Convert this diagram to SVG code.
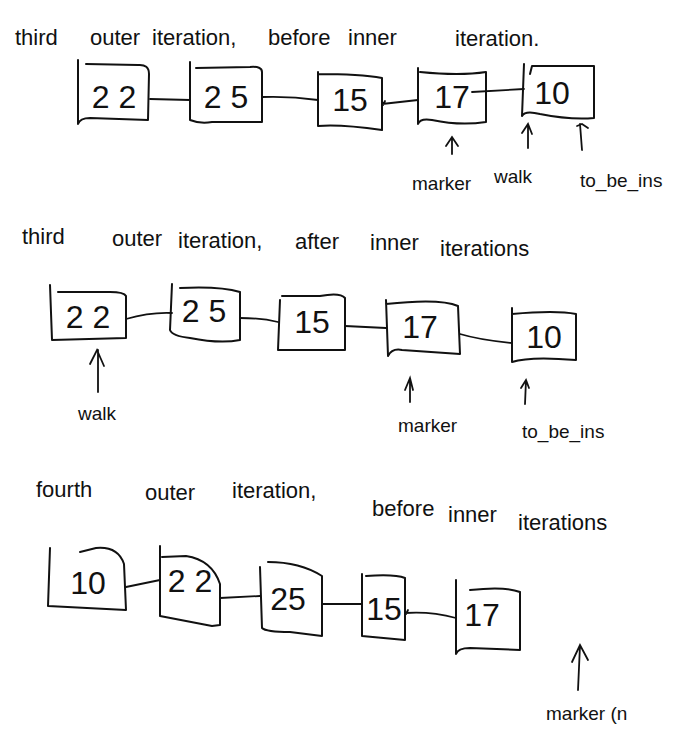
<svg xmlns="http://www.w3.org/2000/svg" width="676" height="749" viewBox="0 0 676 749">
<style>
.t{font-family:"Liberation Sans",Arial,sans-serif;font-size:22px;fill:#111}
.l{font-family:"Liberation Sans",Arial,sans-serif;font-size:19px;fill:#111}
.n{font-family:"Liberation Sans",Arial,sans-serif;font-size:32px;fill:#111;text-anchor:middle}
.b{fill:none;stroke:#111;stroke-width:2;stroke-linecap:round;stroke-linejoin:round}
.c{fill:none;stroke:#111;stroke-width:1.8;stroke-linecap:round}
</style>
<rect width="676" height="749" fill="#fff"/>

<g id="title1"><text class="t"><tspan x="15" y="45">third</tspan><tspan x="90" y="45">outer</tspan><tspan x="152" y="45">iteration,</tspan><tspan x="268" y="45">before</tspan><tspan x="348" y="45">inner</tspan><tspan x="455" y="46">iteration.</tspan></text></g>

<g id="r1-n22"><path class="b" d="M78 60 L78 124 Q80 118 90 118 L148 120 L149 74 Q149 64 138 65 L86 64"/><text class="n" x="114" y="108">2 2</text></g>
<g id="r1-n25"><path class="b" d="M190 62 L190 120 Q200 124 212 122 L262 122 L262 72 Q262 66 250 67 L196 68"/><text class="n" x="226" y="108">2 5</text></g>
<g id="r1-n15"><path class="b" d="M318 72 L318 126 Q340 124 382 130 L382 78 Q360 74 318 74"/><text class="n" x="350" y="111">15</text></g>
<g id="r1-n17"><path class="b" d="M418 68 L418 124 Q420 118 432 120 Q460 126 486 122 L486 72 Q460 76 420 72"/><text class="n" x="452" y="108">17</text></g>
<g id="r1-n10"><path class="b" d="M524 64 L522 116 Q525 110 540 114 Q570 120 594 118 L594 66 Q570 66 532 66 L530 74"/><text class="n" x="552" y="104">10</text></g>

<g id="connectors1">
<path class="c" d="M150 99 L190 100"/>
<path class="c" d="M262 97 Q290 96 318 100"/>
<path class="c" d="M418 100 L382 104 M385 101 L383 105"/>
<path class="c" d="M472 92 L524 89"/>
<path class="c" d="M452 154 L452 137 M446 146 L452 137 L458 146"/>
<path class="c" d="M528 148 L528 124 M522 133 L528 124 L532 134"/>
<path class="c" d="M582 150 L580 124 M577 126 L582 124 L588 128"/>
</g>
<g id="labels1">
<text class="l" x="412" y="190">marker</text>
<text class="l" x="494" y="183">walk</text>
<text class="l" x="580" y="187">to_be_ins</text>
</g>

<g id="title2"><text class="t"><tspan x="22" y="244">third</tspan><tspan x="112" y="246">outer</tspan><tspan x="178" y="248">iteration,</tspan><tspan x="295" y="249">after</tspan><tspan x="370" y="250">inner</tspan><tspan x="440" y="256">iterations</tspan></text></g>

<g id="r2-n22"><path class="b" d="M50 285 L52 340 L126 338 L126 296 Q124 292 110 292 L58 292"/><text class="n" x="88" y="328">2 2</text></g>
<g id="r2-n25"><path class="b" d="M172 284 L170 330 Q172 336 190 338 Q220 344 240 340 L240 292 Q220 286 180 288"/><text class="n" x="204" y="322">2 5</text></g>
<g id="r2-n15"><path class="b" d="M280 300 L278 350 L345 350 L345 298 Q340 292 320 296 L282 296"/><text class="n" x="312" y="333">15</text></g>
<g id="r2-n17"><path class="b" d="M386 300 L388 356 Q392 348 402 350 L460 354 L458 306 Q440 298 386 304"/><text class="n" x="420" y="338">17</text></g>
<g id="r2-n10"><path class="b" d="M512 308 L512 362 Q530 356 576 360 L576 314 Q556 310 512 314"/><text class="n" x="544" y="348">10</text></g>

<g id="connectors2">
<path class="c" d="M126 319 Q150 312 172 313"/>
<path class="c" d="M240 318 Q262 318 278 322"/>
<path class="c" d="M345 326 L386 328"/>
<path class="c" d="M460 334 Q480 340 512 343"/>
<path class="c" d="M98 392 L98 350 M90 364 L97 350 L104 366"/>
<path class="c" d="M410 402 L410 378 M405 390 L410 378 L413 390"/>
<path class="c" d="M525 404 L526 380 M521 388 L526 380 L529 388"/>
</g>
<g id="labels2">
<text class="l" x="78" y="420">walk</text>
<text class="l" x="398" y="432">marker</text>
<text class="l" x="522" y="438">to_be_ins</text>
</g>

<g id="title3"><text class="t"><tspan x="36" y="497">fourth</tspan><tspan x="145" y="500">outer</tspan><tspan x="232" y="498">iteration,</tspan><tspan x="372" y="516">before</tspan><tspan x="448" y="522">inner</tspan><tspan x="518" y="530">iterations</tspan></text></g>

<g id="r3-n10"><path class="b" d="M50 548 L48 606 L126 610 L124 564 Q118 546 96 548 L80 552"/><text class="n" x="88" y="594">10</text></g>
<g id="r3-n22"><path class="b" d="M160 546 L160 616 L212 626 L220 625 L220 584 Q212 560 186 556 L162 557"/><text class="n" x="190" y="592">2 2</text></g>
<g id="r3-n25"><path class="b" d="M260 567 L262 628 Q266 632 290 632 L322 636 L322 576 Q300 562 268 562"/><text class="n" x="288" y="610">25</text></g>
<g id="r3-n15"><path class="b" d="M362 574 L362 636 L405 640 L405 578 Q395 574 366 576"/><text class="n" x="384" y="620">15</text></g>
<g id="r3-n17"><path class="b" d="M456 580 L456 654 Q458 648 470 648 L520 650 L520 592 Q505 586 470 590"/><text class="n" x="482" y="626">17</text></g>

<g id="connectors3">
<path class="c" d="M126 587 L160 580"/>
<path class="c" d="M220 598 L260 596"/>
<path class="c" d="M322 604 L362 604"/>
<path class="c" d="M456 618 Q430 611 405 613 M408 610 L406 614"/>
<path class="c" d="M578 690 L580 645 M572 662 L580 645 L588 660"/>
</g>
<g id="labels3">
<text class="l" x="546" y="720">marker (n</text>
</g>
</svg>
